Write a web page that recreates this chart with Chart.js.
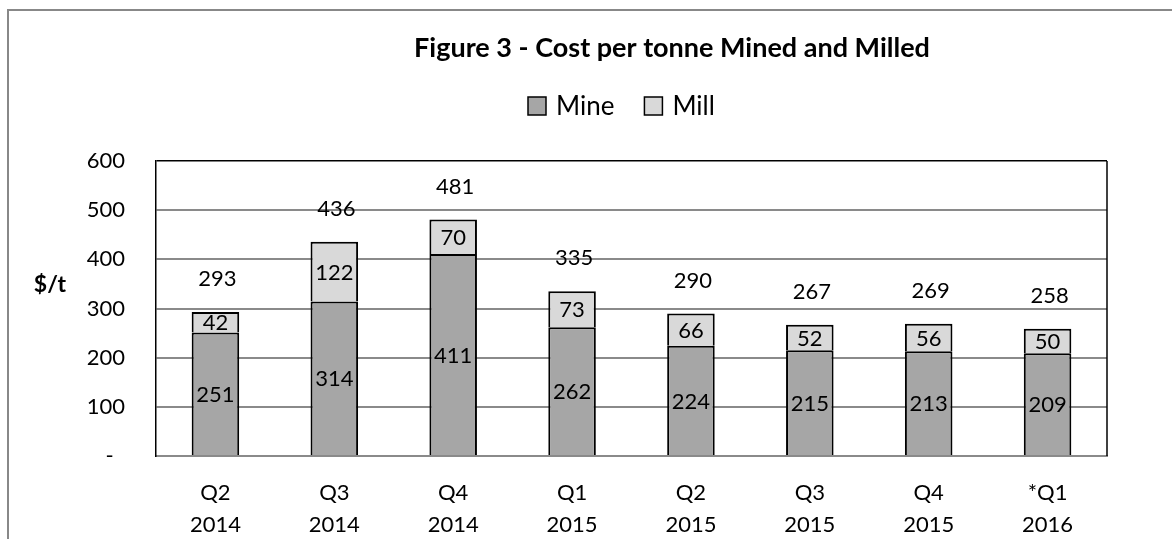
<!DOCTYPE html>
<html>
<head>
<meta charset="utf-8">
<script src="https://cdn.jsdelivr.net/npm/chart.js@4.4.0/dist/chart.umd.min.js"></script>
<style>
  html, body { margin: 0; padding: 0; background: #fff; overflow: hidden; }
  #wrap { position: relative; width: 1172px; height: 539px; }
  #frame { position: absolute; left: 7px; top: 9px; right: -10px; bottom: -10px;
           border-left: 2px solid #888; border-top: 2px solid #888; pointer-events: none; }
  canvas { position: absolute; left: 0; top: 0; }
</style>
</head>
<body>
<div id="wrap">
  <canvas id="c" width="1172" height="539"></canvas>
  <div id="frame"></div>
</div>
<script>
// ---- data ----
const chartTitle = 'Figure 3 - Cost per tonne Mined and Milled';
const yAxisTitle = '$/t';
const categories = [['Q2','2014'],['Q3','2014'],['Q4','2014'],['Q1','2015'],['Q2','2015'],['Q3','2015'],['Q4','2015'],['*Q1','2016']];
const seriesNames = ['Mine', 'Mill'];
const mineValues = [251, 314, 411, 262, 224, 215, 213, 209];
const millValues = [42, 122, 70, 73, 66, 52, 56, 50];
const totalValues = [293, 436, 481, 335, 290, 267, 269, 258];
const yTicks = [0, 100, 200, 300, 400, 500, 600];

const FONT = 'Lato, "Open Sans", sans-serif';
const colors = ['#a6a6a6', '#d9d9d9'];

const decorPlugin = {
  id: 'decor',
  afterDraw(chart) {
    const ctx = chart.ctx;
    const a = chart.chartArea;
    ctx.save();
    // right frame line of plot area
    ctx.strokeStyle = '#000';
    ctx.lineWidth = 1.5;
    ctx.beginPath();
    ctx.moveTo(a.right, a.top);
    ctx.lineTo(a.right, a.bottom);
    ctx.stroke();
    // title
    ctx.fillStyle = '#000';
    ctx.textAlign = 'center';
    ctx.textBaseline = 'middle';
    ctx.font = 'bold 27px ' + FONT;
    ctx.fillText(chartTitle, 672, 48);
    // y axis title
    ctx.font = 'bold 23px ' + FONT;
    ctx.fillText(yAxisTitle, 50, 285);
    // legend
    ctx.font = '26px ' + FONT;
    ctx.textAlign = 'left';
    let x = 528;
    const boxY = 97, box = 18;
    seriesNames.forEach((name, i) => {
      ctx.fillStyle = colors[i];
      ctx.fillRect(x, boxY, box, box);
      ctx.strokeStyle = '#000';
      ctx.lineWidth = 1.5;
      ctx.strokeRect(x, boxY, box, box);
      ctx.fillStyle = '#000';
      ctx.fillText(name, x + box + 10, boxY + box / 2 + 1);
      x += box + 10 + ctx.measureText(name).width + 30;
    });
    ctx.restore();
  },
  afterDatasetsDraw(chart) {
    const ctx = chart.ctx;
    ctx.save();
    ctx.fillStyle = '#000';
    ctx.textAlign = 'center';
    ctx.textBaseline = 'middle';
    ctx.font = '22px ' + FONT;
    chart.data.datasets.forEach((ds, di) => {
      const meta = chart.getDatasetMeta(di);
      meta.data.forEach((bar, i) => {
        const p = bar.getProps(['x', 'y', 'base'], true);
        ctx.fillText(String(ds.data[i]), p.x, (p.y + p.base) / 2 + 1);
      });
    });
    const topMeta = chart.getDatasetMeta(chart.data.datasets.length - 1);
    topMeta.data.forEach((bar, i) => {
      const p = bar.getProps(['x', 'y'], true);
      ctx.fillText(String(totalValues[i]), p.x + 2, p.y - 33);
    });
    ctx.restore();
  }
};

new Chart(document.getElementById('c'), {
  type: 'bar',
  data: {
    labels: categories,
    datasets: [
      { label: seriesNames[0], data: mineValues, backgroundColor: colors[0], borderColor: '#000', borderWidth: 2 },
      { label: seriesNames[1], data: millValues, backgroundColor: colors[1], borderColor: '#000', borderWidth: 2 }
    ]
  },
  options: {
    responsive: false,
    animation: false,
    events: [],
    datasets: { bar: { categoryPercentage: 1.0, barPercentage: 0.4 } },
    layout: { padding: { top: 161, right: 65, left: 0, bottom: 0 } },
    plugins: { legend: { display: false }, title: { display: false }, tooltip: { enabled: false } },
    scales: {
      x: {
        stacked: true,
        grid: { display: false, drawTicks: false },
        border: { display: true, color: '#8a8a8a', width: 2 },
        ticks: { color: '#000', font: { family: FONT, size: 22, lineHeight: 32 / 22 }, padding: 21, maxRotation: 0, autoSkip: false },
        afterFit(scale) { scale.height = 83; }
      },
      y: {
        stacked: true,
        min: 0, max: 600,
        afterBuildTicks(scale) { scale.ticks = yTicks.map(v => ({ value: v })); },
        grid: {
          drawTicks: false,
          color: ctx => (ctx.tick && ctx.tick.value === 600) ? '#000' : '#8a8a8a',
          lineWidth: ctx => (ctx.tick && ctx.tick.value === 600) ? 1.5 : 2
        },
        border: { display: true, color: '#000', width: 1.5 },
        ticks: {
          color: '#000', font: { family: FONT, size: 22 }, padding: 31,
          callback: v => v === 0 ? '-  ' : String(v)
        },
        afterFit(scale) { scale.width = 156; }
      }
    }
  },
  plugins: [decorPlugin]
});
</script>
</body>
</html>
